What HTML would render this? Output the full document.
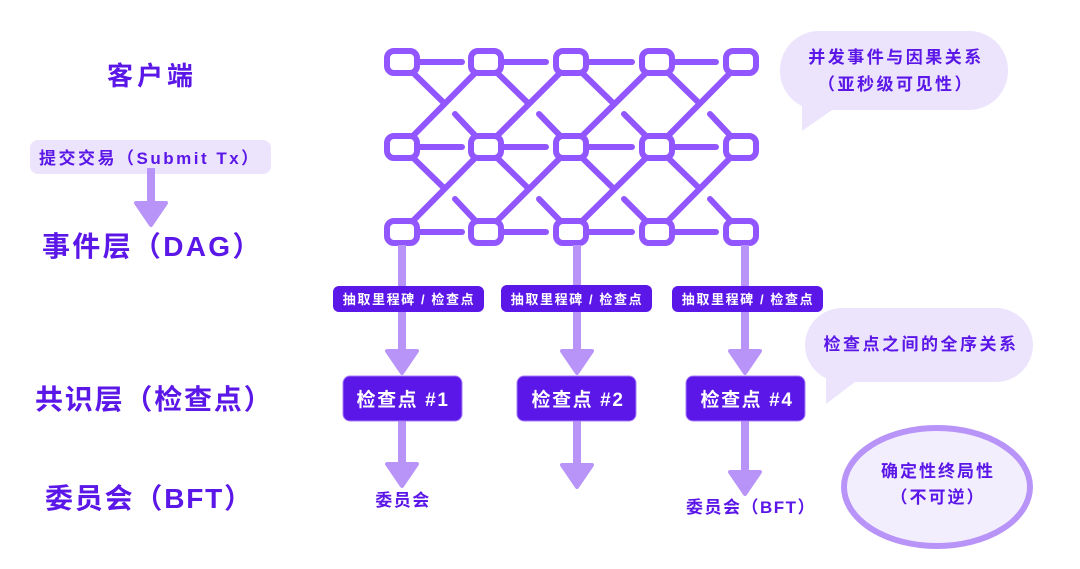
<!DOCTYPE html>
<html><head><meta charset="utf-8"><style>
html,body{margin:0;padding:0;background:#fff;width:1080px;height:569px;overflow:hidden}
svg text{font-family:"Liberation Sans","Noto Sans CJK SC",sans-serif;font-weight:bold}
</style></head><body>
<svg width="1080" height="569" viewBox="0 0 1080 569" xmlns="http://www.w3.org/2000/svg">
<defs>
<g id="ah"><path d="M-15,-22 L15,-22 L0,0 Z" fill="#b894f8" stroke="#b894f8" stroke-width="4" stroke-linejoin="round"/></g>
</defs>
<text x="152" y="85" font-size="26" fill="#5b16e8" text-anchor="middle" letter-spacing="4">客户端</text>
<rect x="30" y="140" width="241" height="34" rx="8" fill="#ece4fd"/>
<text x="39" y="164" font-size="17" fill="#5b16e8" letter-spacing="2.5">提交交易（Submit Tx）</text>
<rect x="147" y="168" width="8" height="40" fill="#b894f8"/>
<use href="#ah" x="151" y="225"/>
<text x="42" y="256" font-size="28" fill="#5b16e8" letter-spacing="2.3">事件层（DAG）</text>
<text x="35" y="409" font-size="28" fill="#5b16e8" letter-spacing="1.8">共识层（检查点）</text>
<text x="45" y="508" font-size="28" fill="#5b16e8" letter-spacing="1.8">委员会（BFT）</text>

<g stroke="#9156ff" stroke-width="6" stroke-linecap="round" fill="none">
<path d="M402,62H462M486,62H546M571,62H632M657,62H716"/>
<path d="M402,147H462M486,147H546M571,147H632M657,147H716"/>
<path d="M402,232H462M486,232H546M571,232H632M657,232H716"/>
<path d="M402,147L486,62M486,147L571,62M571,147L657,62M657,147L741,62"/>
<path d="M402,232L486,147M486,232L571,147M571,232L657,147M657,232L741,147"/>
<path d="M402,62L444,103M455,114L486,147M486,62L528,103M539,114L571,147M571,62L613,103M624,114L657,147M657,62L699,103M710,114L741,147"/>
<path d="M402,147L444,188M455,199L486,232M486,147L528,188M539,199L571,232M571,147L613,188M624,199L657,232M657,147L699,188M710,199L741,232"/>
</g>
<g fill="#fff" stroke="#9156ff" stroke-width="6">
<rect x="387" y="51" width="30" height="22" rx="7"/><rect x="471" y="51" width="30" height="22" rx="7"/><rect x="556" y="51" width="30" height="22" rx="7"/><rect x="642" y="51" width="30" height="22" rx="7"/><rect x="726" y="51" width="30" height="22" rx="7"/>
<rect x="387" y="136" width="30" height="22" rx="7"/><rect x="471" y="136" width="30" height="22" rx="7"/><rect x="556" y="136" width="30" height="22" rx="7"/><rect x="642" y="136" width="30" height="22" rx="7"/><rect x="726" y="136" width="30" height="22" rx="7"/>
<rect x="387" y="221" width="30" height="22" rx="7"/><rect x="471" y="221" width="30" height="22" rx="7"/><rect x="556" y="221" width="30" height="22" rx="7"/><rect x="642" y="221" width="30" height="22" rx="7"/><rect x="726" y="221" width="30" height="22" rx="7"/>
</g>

<g fill="#b894f8">
<rect x="398" y="245" width="8" height="110"/><rect x="573" y="245" width="8" height="110"/><rect x="741" y="245" width="8" height="110"/>
<rect x="398" y="418" width="8" height="50"/><rect x="573" y="418" width="8" height="52"/><rect x="741" y="418" width="8" height="56"/>
</g>
<use href="#ah" x="402" y="373"/><use href="#ah" x="577" y="373"/><use href="#ah" x="745" y="373"/>
<use href="#ah" x="402" y="486"/><use href="#ah" x="577" y="487"/><use href="#ah" x="745" y="494"/>

<g fill="#5b16e8">
<rect x="333" y="286" width="151" height="26" rx="6"/>
<rect x="501" y="285" width="151" height="27" rx="6"/>
<rect x="672" y="286" width="151" height="26" rx="6"/>
</g>
<g font-size="13" fill="#fff" text-anchor="middle" letter-spacing="1.6">
<text x="409" y="304">抽取里程碑 / 检查点</text>
<text x="577" y="304">抽取里程碑 / 检查点</text>
<text x="748" y="304">抽取里程碑 / 检查点</text>
</g>
<g fill="#5b16e8" stroke="#a77cf9" stroke-width="1">
<rect x="343" y="376" width="119" height="45" rx="7"/>
<rect x="517" y="376" width="119" height="45" rx="7"/>
<rect x="686" y="376" width="119" height="45" rx="7"/>
</g>
<g font-size="19" fill="#fff" text-anchor="middle" letter-spacing="1.6">
<text x="403" y="406">检查点 #1</text>
<text x="578" y="406">检查点 #2</text>
<text x="747" y="406">检查点 #4</text>
</g>
<text x="403" y="506" font-size="17" fill="#5b16e8" text-anchor="middle" letter-spacing="1.5">委员会</text>
<text x="751" y="513" font-size="17" fill="#5b16e8" text-anchor="middle" letter-spacing="1.5">委员会（BFT）</text>

<g fill="#ece4fd">
<rect x="780" y="31" width="228" height="79" rx="39"/>
<path d="M802,90 L802,131 L835,108 Z"/>
<rect x="805" y="308" width="228" height="74" rx="37"/>
<path d="M826,360 L826,404 L855,382 Z"/>
</g>
<g font-size="17" fill="#5b16e8" text-anchor="middle" letter-spacing="2.5">
<text x="896" y="63">并发事件与因果关系</text>
<text x="896" y="90">（亚秒级可见性）</text>
<text x="921" y="350">检查点之间的全序关系</text>
</g>
<ellipse cx="937" cy="487" rx="93" ry="59" fill="#f3eefe" stroke="#b894f8" stroke-width="6"/>
<g font-size="17" fill="#5b16e8" text-anchor="middle" letter-spacing="2">
<text x="938" y="477">确定性终局性</text>
<text x="938" y="503">（不可逆）</text>
</g>
</svg>
</body></html>
